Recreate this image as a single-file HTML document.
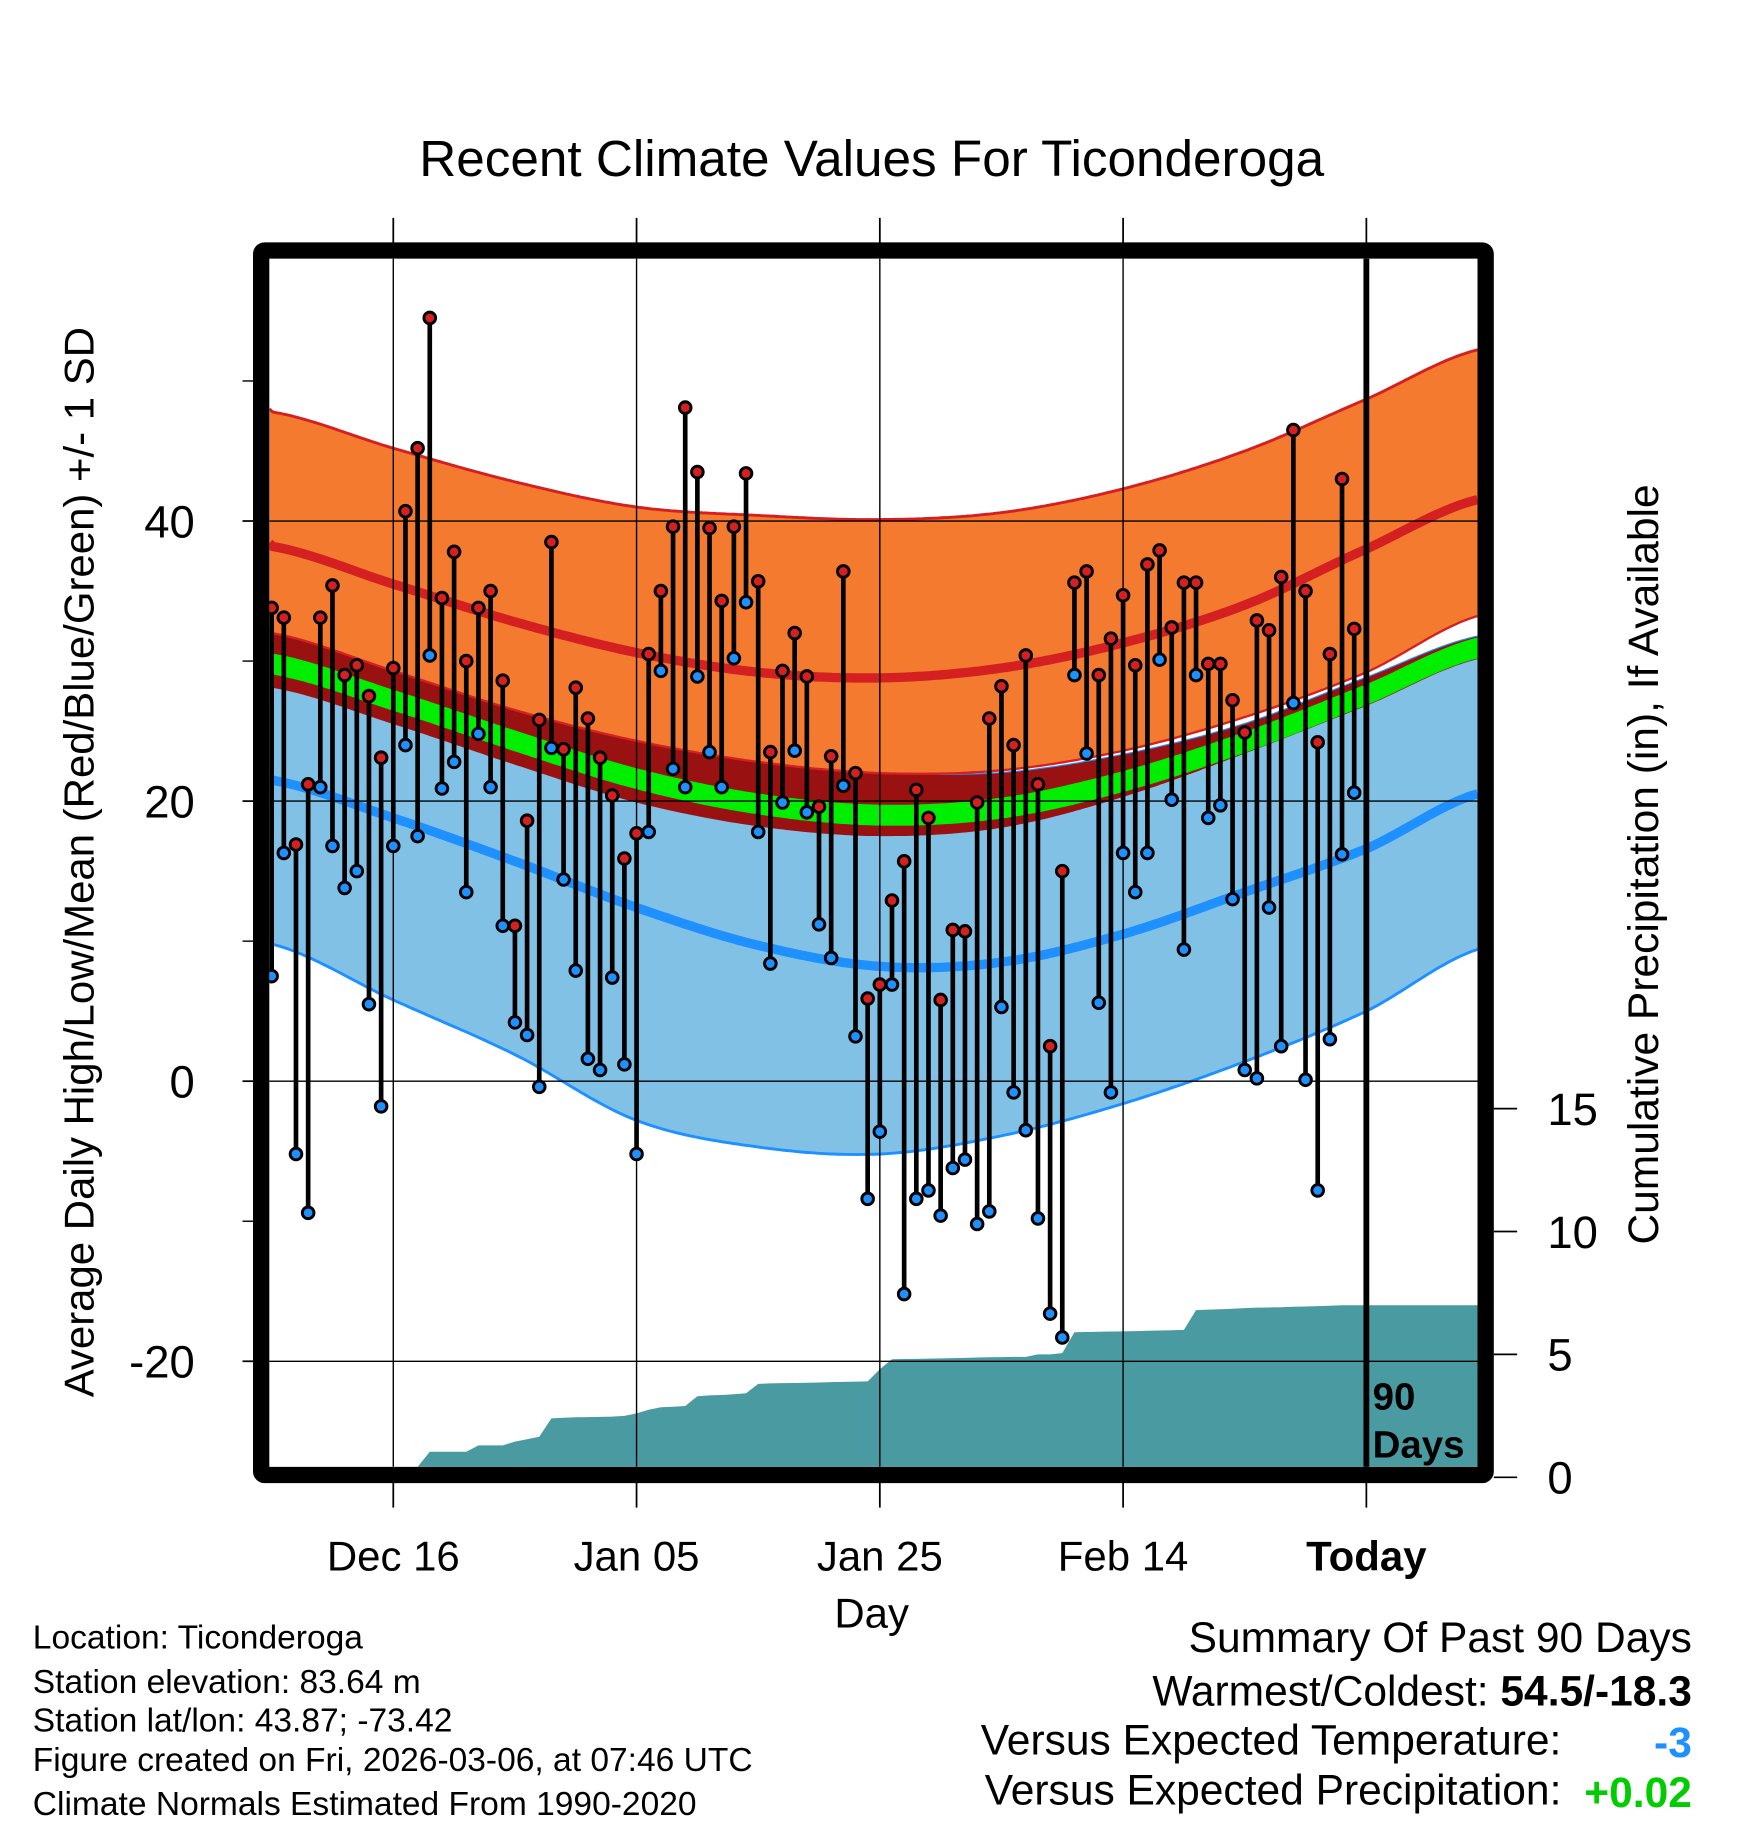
<!DOCTYPE html>
<html><head><meta charset="utf-8"><style>
html,body{margin:0;padding:0;background:#fff}
svg{display:block}
text{font-family:"Liberation Sans",sans-serif}
</style></head><body>
<svg id="chart" width="1748" height="1828" viewBox="0 0 1500 1569" xmlns="http://www.w3.org/2000/svg">
<text x="748" y="151" font-size="44" text-anchor="middle">Recent Climate Values For Ticonderoga</text>
<g id="plot"></g>
<text transform="translate(80,740) rotate(-90)" font-size="36" text-anchor="middle">Average Daily High/Low/Mean (Red/Blue/Green) +/- 1 SD</text>
<text transform="translate(1423,742) rotate(-90)" font-size="36.5" text-anchor="middle">Cumulative Precipitation (in), If Available</text>
<text x="748" y="1397" font-size="36" text-anchor="middle">Day</text>
<g font-size="28.8">
<text x="28" y="1415">Location: Ticonderoga</text>
<text x="28" y="1453">Station elevation: 83.64 m</text>
<text x="28" y="1486">Station lat/lon: 43.87; -73.42</text>
<text x="28" y="1520">Figure created on Fri, 2026-03-06, at 07:46 UTC</text>
<text x="28" y="1558">Climate Normals Estimated From 1990-2020</text>
</g>
<g font-size="36.5">
<text x="1452" y="1418" text-anchor="end">Summary Of Past 90 Days</text>
<text x="1452" y="1464" text-anchor="end">Warmest/Coldest: <tspan font-weight="bold">54.5/-18.3</tspan></text>
<text x="1340" y="1506" text-anchor="end">Versus Expected Temperature:</text>
<text x="1452" y="1508" text-anchor="end" font-weight="bold" fill="#1e90ff">-3</text>
<text x="1340" y="1549" text-anchor="end">Versus Expected Precipitation:</text>
<text x="1452" y="1551" text-anchor="end" font-weight="bold" fill="#00cc00">+0.02</text>
</g>
</svg>
<script>
const highs=[33.8,33.1,16.9,21.2,33.1,35.4,29.0,29.7,27.5,23.1,29.5,40.7,45.2,54.5,34.5,37.8,30.0,33.8,35.0,28.6,11.1,18.6,25.8,38.5,23.7,28.1,25.9,23.1,20.4,15.9,17.7,30.5,35.0,39.6,48.1,43.5,39.5,34.3,39.6,43.4,35.7,23.5,29.3,32.0,28.9,19.6,23.2,36.4,22.0,5.9,6.9,12.9,15.7,20.8,18.8,5.8,10.8,10.7,19.9,25.9,28.2,24.0,30.4,21.2,2.5,15.0,35.6,36.4,29.0,31.6,34.7,29.7,36.9,37.9,32.4,35.6,35.6,29.8,29.8,27.2,24.9,32.9,32.2,36.0,46.5,35.0,24.2,30.5,43.0,32.3];
const lows=[7.5,16.3,-5.2,-9.4,21.0,16.8,13.8,15.0,5.5,-1.8,16.8,24.0,17.5,30.4,20.9,22.8,13.5,24.8,21.0,11.1,4.2,3.3,-0.4,23.8,14.4,7.9,1.6,0.8,7.4,1.2,-5.2,17.8,29.3,22.3,21.0,28.9,23.5,21.0,30.2,34.2,17.8,8.4,19.9,23.6,19.2,11.2,8.8,21.1,3.2,-8.4,-3.6,6.9,-15.2,-8.4,-7.8,-9.6,-6.2,-5.6,-10.2,-9.3,5.3,-0.8,-3.5,-9.8,-16.6,-18.3,29.0,23.4,5.6,-0.8,16.3,13.5,16.3,30.1,20.1,9.4,29.0,18.8,19.7,13.0,0.8,0.2,12.4,2.5,27.0,0.1,-7.8,3.0,16.2,20.6];
const precip=[0,0,0,0,0,0,0,0,0,0,0,0,0,1.04,1.04,1.04,1.04,1.3,1.3,1.3,1.45,1.55,1.65,2.4,2.42,2.44,2.45,2.46,2.47,2.5,2.6,2.75,2.85,2.87,2.9,3.3,3.33,3.35,3.38,3.42,3.8,3.82,3.83,3.84,3.85,3.86,3.87,3.88,3.89,3.9,4.4,4.8,4.81,4.82,4.83,4.84,4.85,4.86,4.87,4.88,4.89,4.9,4.9,5.0,5.0,5.05,5.9,5.91,5.92,5.93,5.94,5.95,5.96,5.97,5.98,6.0,6.8,6.82,6.84,6.86,6.88,6.9,6.91,6.92,6.94,6.95,6.96,6.98,7.0,7.0];
const normDays=[-1,0,10,20,30,40,50,60,70,80,90,99.5];
const highPlus=[48.1,47.8,45.2,42.8,41.0,40.4,40.1,40.6,42.3,45.0,48.7,52.3];
const highMean=[38.5,38.2,35.5,32.8,30.6,29.2,28.8,29.5,31.3,34.0,38.0,41.6];
const highMinus=[32.3,32.0,29.3,26.5,24.3,22.8,22.0,22.2,23.6,26.0,29.2,33.3];
const lowPlus=[32.5,32.2,29.5,26.7,24.3,22.8,22.0,22.0,23.3,25.5,28.8,31.8];
const darkRedLow=[28.4,28.1,25.5,22.6,19.9,18.2,17.5,18.1,20.3,23.4,26.8,30.2];
const meanLine=[30.1,29.8,27.2,24.3,21.6,19.8,19.0,19.5,21.4,24.2,27.6,31.0];
const lowMean=[21.8,21.5,18.8,15.7,12.4,9.7,8.2,8.5,10.5,13.5,16.6,20.6];
const lowMinus=[10.2,9.8,5.8,1.9,-2.8,-4.7,-5.2,-3.9,-1.6,1.4,5.0,9.5];
const yTicks=[40,20,0,-20];
const yMinor=[50,30,10,-10];
const pTicks=[0,5,10,15];
const xTickDays=[10,30,50,70,90];
const xTickLabels=["Dec 16","Jan 05","Jan 25","Feb 14","Today"];

const X0=233,DX=10.44,L=231,R=1268,T=222,B=1259;
const xs=d=>X0+DX*d;
const ys=v=>928-12.02*v;
const yp=p=>1268-21.1*p;
const NS="http://www.w3.org/2000/svg";
const plot=document.getElementById('plot');
function mk(tag,attrs,parent){const e=document.createElementNS(NS,tag);for(const k in attrs)e.setAttribute(k,attrs[k]);(parent||plot).appendChild(e);return e;}
function interp(arr,d){
  let i=0;while(i<normDays.length-2&&d>normDays[i+1])i++;
  const d0=normDays[i],d1=normDays[i+1];let t=(d-d0)/(d1-d0);
  const p0=arr[Math.max(0,i-1)],p1=arr[i],p2=arr[i+1],p3=arr[Math.min(arr.length-1,i+2)];
  const t2=t*t,t3=t2*t;
  return 0.5*((2*p1)+(-p0+p2)*t+(2*p0-5*p1+4*p2-p3)*t2+(-p0+3*p1-3*p2+p3)*t3);
}
function curvePts(arr){const pts=[];for(let x=L;x<=R;x+=3){pts.push([x,ys(interp(arr,(x-X0)/DX))]);}
  pts.push([R,ys(interp(arr,(R-X0)/DX))]);return pts;}
const defs=mk('defs',{});
const cp=mk('clipPath',{id:'clip'},defs);mk('rect',{x:L,y:T,width:R-L,height:B-T},cp);
const g=mk('g',{'clip-path':'url(#clip)'});
function mk2(tag,attrs){return mk(tag,attrs,g);}
function band2(a,b,fill,name){const p1=curvePts(a),p2=curvePts(b).reverse();
  const e=mk2('path',{d:'M'+p1.concat(p2).map(p=>p[0].toFixed(1)+','+p[1].toFixed(1)).join('L')+'Z',fill:fill});
  
  
  return e;}
function line2(a,stroke,w,name){const e=mk2('path',{d:'M'+curvePts(a).map(p=>p[0].toFixed(1)+','+p[1].toFixed(1)).join('L'),fill:'none',stroke:stroke,'stroke-width':w});
  
  
  return e;}
band2(lowPlus,lowMinus,'#82c1e6','low-sd-band');
line2(lowMinus,'#1e90ff',2.5,'low-minus-sd-line');
line2(lowPlus,'#1e90ff',2,'low-plus-sd-line');
band2(lowPlus,darkRedLow,'#991111','overlap-band');
const gm=meanLine.map(v=>v+0.75),gl=meanLine.map(v=>v-0.75);
band2(gm,gl,'#00ee00','mean-band');
band2(highPlus,highMinus,'#f47a30','high-sd-band');
line2(highPlus,'#d42020',2.5,'high-plus-sd-line');
line2(highMinus,'#d42020',2,'high-minus-sd-line');
line2(highMean,'#d42020',8,'high-mean-line');
line2(lowMean,'#1e90ff',8,'low-mean-line');
let pd='M'+xs(0).toFixed(1)+','+B;
precip.forEach((p,i)=>{pd+='L'+xs(i).toFixed(1)+','+Math.min(B,yp(p)).toFixed(1);});
pd+='L'+R+','+Math.min(B,yp(precip[precip.length-1])).toFixed(1)+'L'+R+','+B+'Z';
const pa=mk2('path',{d:pd,fill:'#4a9aa2'});


yTicks.forEach(v=>{const e=mk2('line',{x1:L,x2:R,y1:ys(v),y2:ys(v),stroke:'#000','stroke-width':1.2});
  
  });
xTickDays.forEach(d=>{const e=mk2('line',{x1:xs(d),x2:xs(d),y1:T,y2:B,stroke:'#000','stroke-width':1.2});
  
  });
const tl=mk2('line',{x1:xs(90),x2:xs(90),y1:T,y2:B,stroke:'#000','stroke-width':5});


const t1=mk2('text',{x:1178,y:1210,'font-size':33,'font-weight':'bold'});t1.textContent='90';


const t2=mk2('text',{x:1178,y:1251,'font-size':33,'font-weight':'bold'});t2.textContent='Days';


highs.forEach((h,i)=>{const l=lows[i];
  const s=mk2('line',{x1:xs(i),x2:xs(i),y1:ys(h),y2:ys(l),stroke:'#000','stroke-width':4});
  
  
});
highs.forEach((h,i)=>{const l=lows[i];
  const c1=mk2('circle',{cx:xs(i),cy:ys(l),r:5,fill:'#1e90ff',stroke:'#000','stroke-width':2.5});
  
  
  const c2=mk2('circle',{cx:xs(i),cy:ys(h),r:5,fill:'#d42020',stroke:'#000','stroke-width':2.5});
  
  
});
const fr=mk('rect',{x:224,y:215,width:1051,height:1051,fill:'none',stroke:'#000','stroke-width':14,rx:3});


yTicks.forEach(v=>{const e=mk('line',{x1:208,x2:218,y1:ys(v),y2:ys(v),stroke:'#000','stroke-width':1.5});
  
  
  const t=mk('text',{x:167,y:ys(v)+14,'font-size':39,'text-anchor':'end'});t.textContent=String(v);
  
  });
yMinor.forEach(v=>{const e=mk('line',{x1:208,x2:218,y1:ys(v),y2:ys(v),stroke:'#000','stroke-width':1.2});
  
  });
pTicks.forEach(p=>{const e=mk('line',{x1:1282,x2:1302,y1:yp(p),y2:yp(p),stroke:'#000','stroke-width':1.5});
  
  
  const t=mk('text',{x:1328,y:yp(p)+14,'font-size':39});t.textContent=String(p);
  
  });
xTickDays.forEach((d,i)=>{
  const a=mk('line',{x1:xs(d),x2:xs(d),y1:187,y2:210,stroke:'#000','stroke-width':1.5});
  
  
  const b=mk('line',{x1:xs(d),x2:xs(d),y1:1272,y2:1294,stroke:'#000','stroke-width':1.5});
  
  
  const t=mk('text',{x:xs(d),y:1348,'font-size':36,'text-anchor':'middle'});t.textContent=xTickLabels[i];
  if(xTickLabels[i]==='Today')t.setAttribute('font-weight','bold');
  
  
});
</script>
</body></html>
